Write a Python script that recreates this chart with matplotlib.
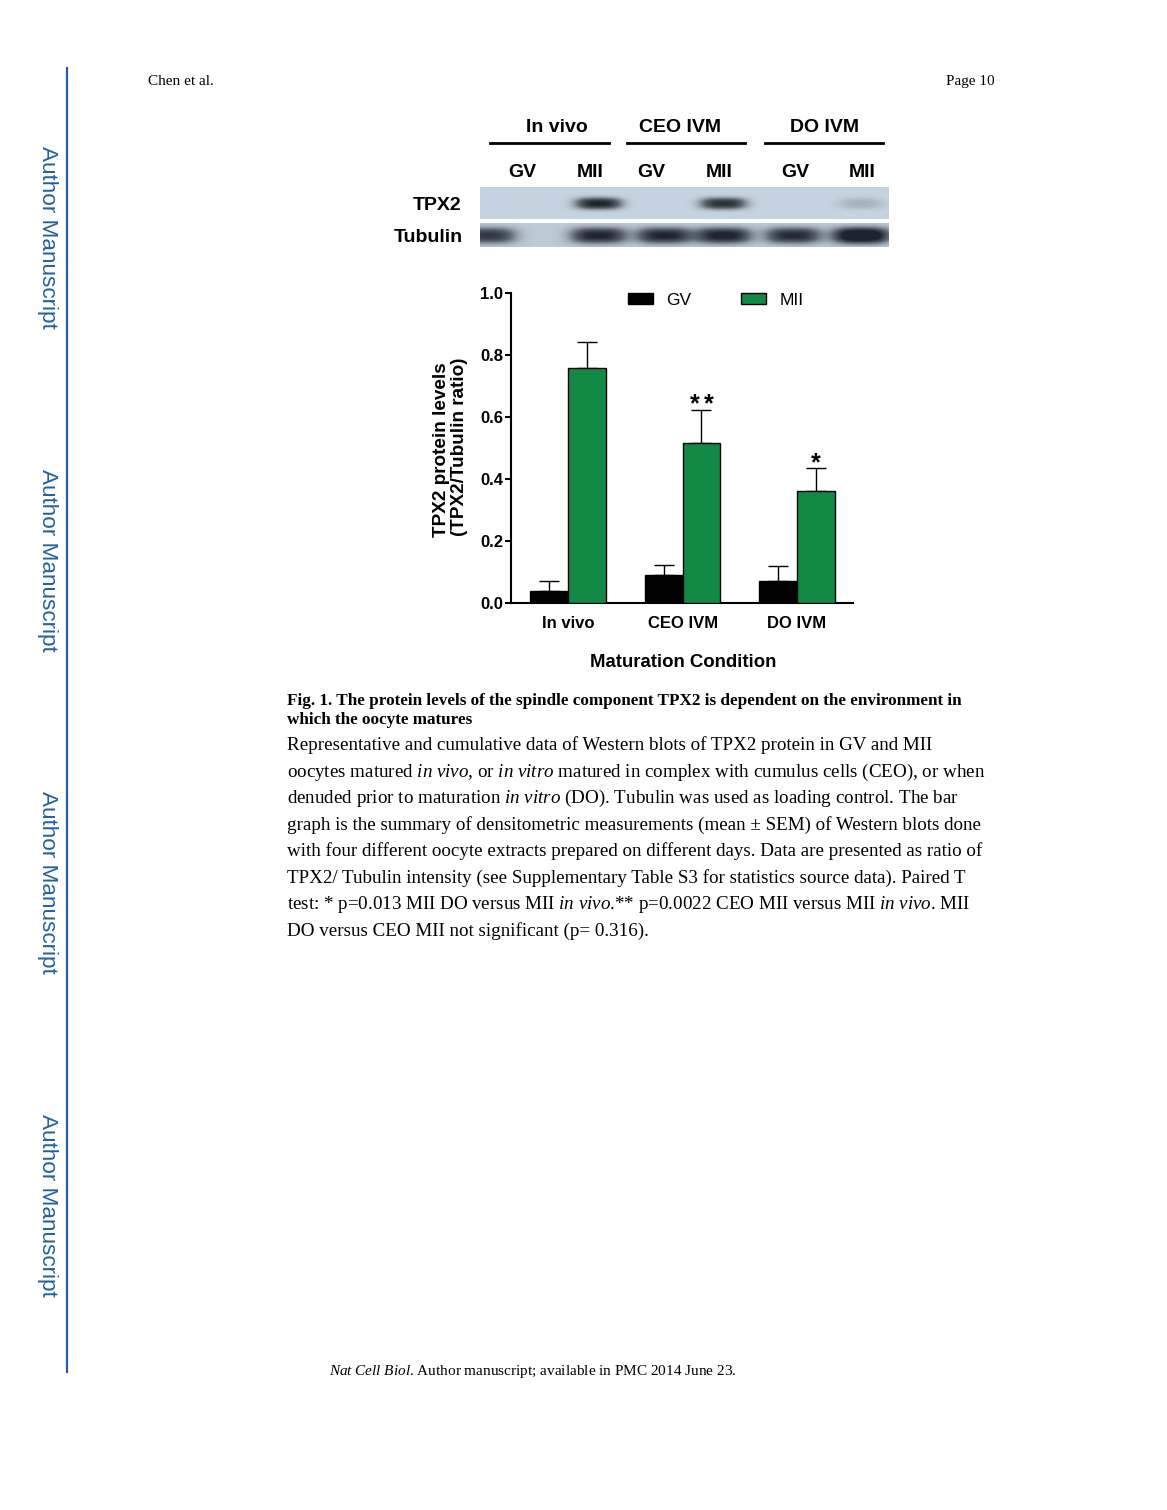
import numpy as np
import matplotlib
matplotlib.use('Agg')
import matplotlib.pyplot as plt
from matplotlib.colors import LinearSegmentedColormap

plt.rcParams['font.family'] = ['Liberation Sans', 'DejaVu Sans']
plt.rcParams['mathtext.fontset'] = 'custom'
plt.rcParams['mathtext.rm'] = 'Liberation Serif'
plt.rcParams['mathtext.it'] = 'Liberation Serif:italic'

# ---- data ----
conditions = ['In vivo', 'CEO IVM', 'DO IVM']
gv_mean = [0.038, 0.089, 0.072]
gv_sem = [0.032, 0.035, 0.046]
mii_mean = [0.758, 0.515, 0.362]
mii_sem = [0.085, 0.109, 0.073]
mii_marks = ['', '**', '*']
y_ticks = [0.0, 0.2, 0.4, 0.6, 0.8, 1.0]

# western blot: relative band darkness per lane
lanes = ['GV', 'MII', 'GV', 'MII', 'GV', 'MII']
tpx2_band = [0.0, 1.0, 0.0, 0.9, 0.0, 0.15]
tubulin_band = [0.85, 1.0, 1.0, 1.05, 0.95, 1.4]

caption_title = [
    "Fig. 1. The protein levels of the spindle component TPX2 is dependent on the environment in",
    "which the oocyte matures",
]
caption_body = [
    "Representative and cumulative data of Western blots of TPX2 protein in GV and MII",
    r"oocytes matured $\mathit{in\ vivo}$, or $\mathit{in\ vitro}$ matured in complex with cumulus cells (CEO), or when",
    r"denuded prior to maturation $\mathit{in\ vitro}$ (DO). Tubulin was used as loading control. The bar",
    "graph is the summary of densitometric measurements (mean \u00b1 SEM) of Western blots done",
    "with four different oocyte extracts prepared on different days. Data are presented as ratio of",
    "TPX2/ Tubulin intensity (see Supplementary Table S3 for statistics source data). Paired T",
    r"test: * p=0.013 MII DO versus MII $\mathit{in\ vivo}$.** p=0.0022 CEO MII versus MII $\mathit{in\ vivo}$. MII",
    "DO versus CEO MII not significant (p= 0.316).",
]

GREEN = '#128a45'
BLUE = '#24609c'
W, H = 1167, 1510

fig = plt.figure(figsize=(W / 100, H / 100), dpi=100)
page = fig.add_axes([0, 0, 1, 1])
page.axis('off')

# ---- page furniture ----
serif = 'Liberation Serif'
page.text(148, 85, 'Chen et al.', fontsize=11, family=serif, va='baseline')
page.text(995, 85, 'Page 10', fontsize=11, family=serif, va='baseline', ha='right')
page.plot([67, 67], [68, 1372], color=BLUE, lw=1.6)
for yc in [237, 560, 882, 1205]:
    page.text(47, yc, 'Author Manuscript', fontsize=16.2, color=BLUE, rotation=270,
              ha='center', va='center')
page.text(329, 1375, r'$\mathit{Nat\ Cell\ Biol}$. Author manuscript; available in PMC 2014 June 23.',
          fontsize=11, family=serif, va='baseline')

# ---- western blot ----
lane_px = [488, 599, 665, 724, 794, 862]
label_px = [522, 590, 651, 719, 795, 862]
group_px = [557, 680, 824]
group_lines = [(490, 609), (627, 745), (765, 883)]


def blot_strip(y0, y1, intens, half_w, half_h, bg):
    xs = np.arange(480, 890) + 0.5
    ys = np.arange(y0, y1) + 0.5
    X, Y = np.meshgrid(xs, ys)
    cy = (y0 + y1) / 2 + 0.5
    v = np.zeros_like(X)
    for cx, a in zip(lane_px, intens):
        v += a * np.exp(-(np.abs(X - cx) / half_w) ** 3) * np.exp(-(np.abs(Y - cy) / half_h) ** 2.5)
    cmap = LinearSegmentedColormap.from_list('blot', [bg, '#5d6670', '#1d242d'])
    page.imshow(np.clip(v, 0, 1), cmap=cmap, vmin=0, vmax=1, extent=(480, 889, y1, y0),
                interpolation='bilinear', aspect='auto')


blot_strip(187, 219, tpx2_band, 22, 5.5, '#c4d3df')
blot_strip(223, 247, tubulin_band, 27, 7.5, '#bccad6')

for name, xc in zip(conditions, group_px):
    page.text(xc, 128, name, fontsize=14, fontweight='bold', ha='center', va='center')
for x0, x1 in group_lines:
    page.plot([x0, x1], [143, 143], color='black', lw=2)
for name, xc in zip(lanes, label_px):
    page.text(xc, 172.5, name, fontsize=14, fontweight='bold', ha='center', va='center')
page.text(461, 205, 'TPX2', fontsize=14, fontweight='bold', ha='right', va='center')
page.text(463, 237, 'Tubulin', fontsize=14, fontweight='bold', ha='right', va='center')

page.set_xlim(0, W)
page.set_ylim(H, 0)

# ---- bar chart ----
ax = fig.add_axes([511 / W, 1 - 603 / H, 342 / W, 310 / H])
x = np.arange(len(conditions))
bw = 0.33
ax.bar(x - bw / 2, gv_mean, bw, color='black', edgecolor='black', lw=1, label='GV', zorder=3)
ax.bar(x + bw / 2, mii_mean, bw, color=GREEN, edgecolor='black', lw=1, label='MII', zorder=3)
ax.errorbar(x - bw / 2, gv_mean, yerr=[np.zeros(3), gv_sem], fmt='none', ecolor='black',
            elinewidth=1, capsize=7.5, capthick=1, zorder=2)
ax.errorbar(x + bw / 2, mii_mean, yerr=[np.zeros(3), mii_sem], fmt='none', ecolor='black',
            elinewidth=1, capsize=7.5, capthick=1, zorder=2)
# significance stars, one glyph each so they sit apart like the original
for xi, m, s, mark in zip(x, mii_mean, mii_sem, mii_marks):
    n = len(mark)
    for k, star in enumerate(mark):
        ax.annotate(star, (xi + bw / 2, m + s), xytext=((k - (n - 1) / 2) * 10, -1.5),
                    textcoords='offset points', ha='center', va='baseline',
                    fontsize=18, fontweight='bold')

ax.set_xlim(-0.5, 2.49)
ax.set_ylim(0, 1.0)
ax.set_yticks(y_ticks)
ax.set_yticklabels(['%.1f' % t for t in y_ticks], fontweight='bold', fontsize=12)
ax.set_xticks(x)
ax.set_xticklabels(conditions, fontweight='bold', fontsize=12)
ax.tick_params(axis='y', direction='out', length=4.5, width=1.5, pad=1)
ax.tick_params(axis='x', length=0, pad=9)
for side in ['top', 'right']:
    ax.spines[side].set_visible(False)
for side in ['left', 'bottom']:
    ax.spines[side].set_linewidth(1.5)
ax.legend(loc='center', bbox_to_anchor=(0.598, 0.977), ncol=2, frameon=False, fontsize=12.5,
          handlelength=1.45, handleheight=0.66, handletextpad=0.75, columnspacing=2.9,
          borderpad=0, borderaxespad=0)

page.text(441, 450, 'TPX2 protein levels', fontsize=13.6, fontweight='bold', rotation=90,
          ha='center', va='center')
page.text(459.5, 447, '(TPX2/Tubulin ratio)', fontsize=13.6, fontweight='bold', rotation=90,
          ha='center', va='center')
page.text(683, 662.5, 'Maturation Condition', fontsize=13.4, fontweight='bold', ha='center', va='center')

# ---- caption ----
for i, line in enumerate(caption_title):
    page.text(287, 705 + 19.5 * i, line, fontsize=12.3, family=serif, fontweight='bold', va='baseline')
for i, line in enumerate(caption_body):
    page.text(287, 750 + 26.5 * i, line, fontsize=13.7, family=serif, va='baseline')

fig.savefig('out.png', dpi=100)
